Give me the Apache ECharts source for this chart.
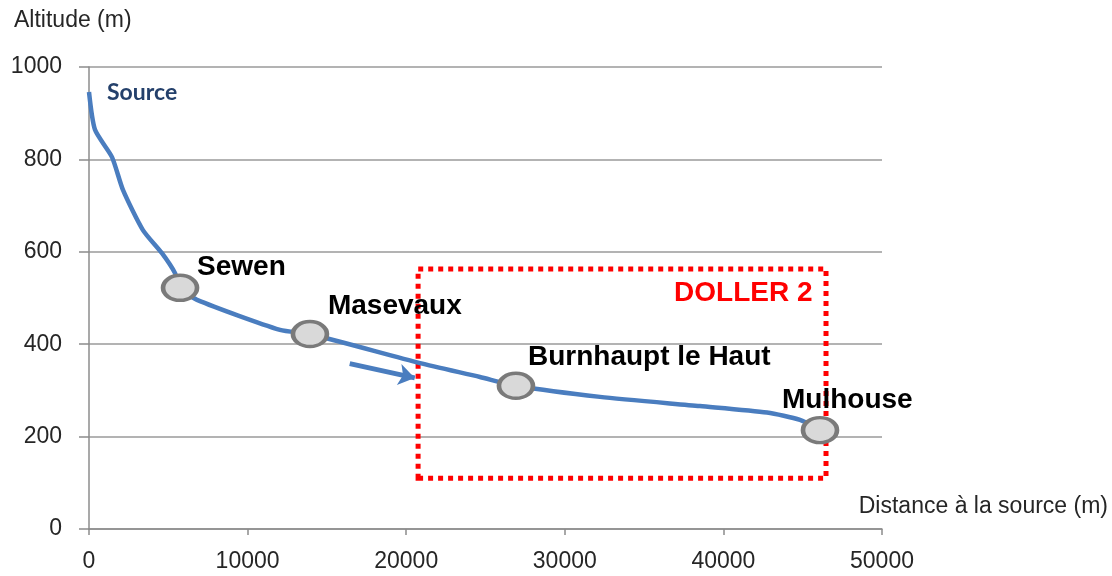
<!DOCTYPE html>
<html>
<head>
<meta charset="utf-8">
<script src="https://cdn.jsdelivr.net/npm/echarts@6/dist/echarts.min.js"></script>
<style>
html,body{margin:0;padding:0;background:#fff;}
#chart{width:1112px;height:576px;}
</style>
</head>
<body>
<div id="chart"></div>
<script>
// River profile (distance from source in m, altitude in m)
var distances = [0, 380, 1450, 2140, 3400, 4600, 5420, 5740, 6810, 12040, 13930, 20870, 24650, 26920, 32220, 38520, 42750, 44830, 46090];
var altitudes = [946, 864, 805, 734, 647, 597, 554, 522, 496, 431, 422, 359, 329, 310, 286, 266, 252, 236, 214];

// Towns along the river
var townNames = ['Sewen', 'Masevaux', 'Burnhaupt le Haut', 'Mulhouse'];
var townDist = [5740, 13930, 26920, 46090];
var townAlt = [522, 422, 310, 214];

// Axis ticks
var xTicks = [0, 10000, 20000, 30000, 40000, 50000];
var yTicks = [0, 200, 400, 600, 800, 1000];

// Annotations
var dollerBox = [[20750, 110], [46470, 563]];
var flowArrow = [[16440, 358], [20540, 327]];

var labelOffsets = [[17, -21], [18, -28], [12, -28], [-38, -30]];

var chart = echarts.init(document.getElementById('chart'));
var blue = '#4a7dbf';
var axisText = '#262626';
var font = '"Liberation Sans", Arial, sans-serif';

var lineData = distances.map(function (d, i) { return [d, altitudes[i]]; });
var townData = townNames.map(function (n, i) {
  return {
    name: n,
    value: [townDist[i], townAlt[i]],
    label: { offset: labelOffsets[i] }
  };
});

function plain(v) { return String(v); }

chart.setOption({
  animation: false,
  grid: { left: 89, right: 230, top: 67, bottom: 47 },
  xAxis: {
    type: 'value',
    min: xTicks[0], max: xTicks[xTicks.length - 1], interval: 10000,
    axisLine: { show: true, onZero: false, lineStyle: { color: '#8c8c8c', width: 1.5 } },
    axisTick: { show: true, length: 6, lineStyle: { color: '#8c8c8c', width: 1.5 } },
    splitLine: { show: false },
    axisLabel: { color: axisText, fontFamily: font, fontSize: 23, margin: 21, formatter: plain }
  },
  yAxis: {
    type: 'value',
    min: yTicks[0], max: yTicks[yTicks.length - 1], interval: 200,
    axisLine: { show: true, lineStyle: { color: '#8c8c8c', width: 1.5 } },
    axisTick: { show: true, length: 10, lineStyle: { color: '#8c8c8c', width: 1.5 } },
    splitLine: { show: true, lineStyle: { color: '#9a9a9a', width: 1.5 } },
    axisLabel: { color: axisText, fontFamily: font, fontSize: 23, margin: 27, formatter: plain }
  },
  graphic: [
    { type: 'text', left: 14, top: 9, style: { text: 'Altitude (m)', fill: axisText, font: '23px ' + font } },
    { type: 'text', right: 4, top: 495, style: { text: 'Distance à la source (m)', fill: axisText, font: '23px ' + font } }
  ],
  series: [
    {
      type: 'line',
      data: lineData,
      smooth: 0.22,
      showSymbol: false,
      symbol: 'none',
      lineStyle: { color: blue, width: 4.5 },
      z: 3,
      markPoint: {
        symbol: 'circle', symbolSize: 1,
        itemStyle: { color: 'rgba(0,0,0,0)' },
        data: [{
          coord: [distances[0], altitudes[0]],
          label: {
            show: true, formatter: 'Source', position: 'inside', align: 'left', verticalAlign: 'middle',
            offset: [18, 1], color: '#24406b', fontFamily: 'Lato, "Open Sans", sans-serif', fontWeight: 'bold', fontSize: 23
          }
        }]
      },
      markLine: {
        silent: true,
        symbol: ['none', 'arrow'],
        symbolSize: [16, 16],
        lineStyle: { color: blue, width: 5, type: 'solid' },
        label: { show: false },
        data: [[{ coord: flowArrow[0] }, { coord: flowArrow[1] }]]
      },
      markArea: {
        silent: true,
        itemStyle: { color: 'rgba(0,0,0,0)', borderColor: '#ff0000', borderWidth: 5, borderType: 'dotted' },
        label: {
          show: true, formatter: 'DOLLER 2', position: 'insideTopRight', distance: 5, offset: [-11, 8],
          color: '#ff0000', fontFamily: font, fontWeight: 'bold', fontSize: 28
        },
        data: [[{ coord: dollerBox[0] }, { coord: dollerBox[1] }]]
      }
    },
    {
      type: 'scatter',
      data: townData,
      symbol: 'circle',
      symbolSize: [34, 25],
      itemStyle: { color: '#d9d9d9', borderColor: '#7a7a7a', borderWidth: 4, opacity: 1 },
      label: {
        show: true, position: 'inside', align: 'left', verticalAlign: 'middle',
        formatter: '{b}', color: '#000', fontFamily: font, fontWeight: 'bold', fontSize: 28
      },
      z: 4
    }
  ]
});
</script>
</body>
</html>
